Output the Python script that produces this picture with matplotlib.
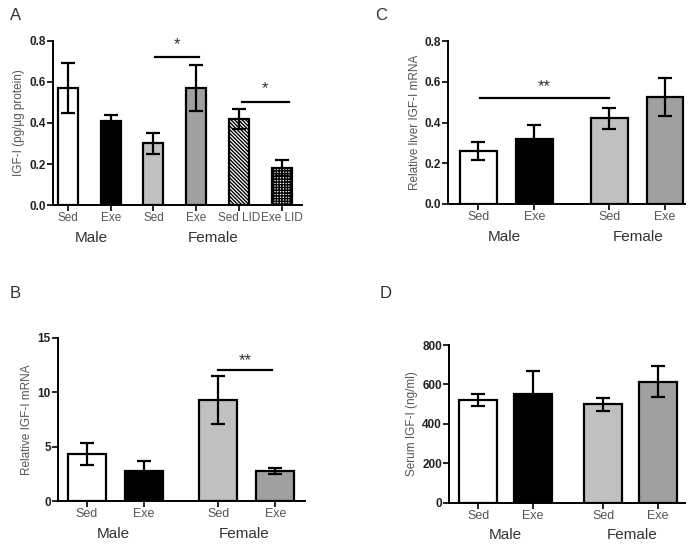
import matplotlib
matplotlib.use('Agg')
import matplotlib.pyplot as plt

plt.rcParams['font.family'] = ['Liberation Sans', 'DejaVu Sans']
plt.rcParams['hatch.linewidth'] = 1.0

WHITE = 'white'
BLACK = 'black'
LIGHT = '#c0c0c0'
MID = '#a0a0a0'
GREY_TXT = '#555555'

# Panel A: IGF-I protein
a_labels = ['Sed', 'Exe', 'Sed', 'Exe', 'Sed LID', 'Exe LID']
a_means = [0.57, 0.41, 0.30, 0.57, 0.42, 0.18]
a_err = [0.12, 0.03, 0.05, 0.11, 0.05, 0.04]

# Panel B: relative IGF-I mRNA
b_labels = ['Sed', 'Exe', 'Sed', 'Exe']
b_means = [4.3, 2.8, 9.3, 2.75]
b_err = [1.0, 0.9, 2.2, 0.25]

# Panel C: relative liver IGF-I mRNA
c_labels = ['Sed', 'Exe', 'Sed', 'Exe']
c_means = [0.26, 0.32, 0.42, 0.525]
c_err = [0.045, 0.07, 0.05, 0.095]

# Panel D: serum IGF-I
d_labels = ['Sed', 'Exe', 'Sed', 'Exe']
d_means = [520, 550, 500, 615]
d_err = [30, 120, 32, 78]

fig = plt.figure(figsize=(6.97, 5.44), dpi=100)


def panel(rect, pos, means, err, labels, colors, hatches, width, xlim, ylim, yticks,
          yfmt, ylabel, groups, xfs=9):
    ax = fig.add_axes(rect)
    ax.bar(pos, means, width=width, color=colors, edgecolor='black', linewidth=1.6,
           hatch=hatches, zorder=2)
    ax.errorbar(pos, means, yerr=err, fmt='none', ecolor='black', elinewidth=1.6,
                capsize=5, capthick=1.6, zorder=3)
    ax.set_xlim(*xlim)
    ax.set_ylim(*ylim)
    ax.set_yticks(yticks)
    ax.set_yticklabels([yfmt % t for t in yticks], fontsize=8.5, fontweight='bold',
                       color='#222222')
    ax.set_xticks(pos)
    ax.set_xticklabels(labels, fontsize=xfs, color=GREY_TXT)
    ax.spines['top'].set_visible(False)
    ax.spines['right'].set_visible(False)
    ax.spines['left'].set_linewidth(1.4)
    ax.spines['bottom'].set_linewidth(1.4)
    ax.tick_params(axis='both', width=1.2, length=4)
    ax.tick_params(axis='x', pad=1)
    ax.tick_params(axis='y', pad=1)
    ax.set_ylabel(ylabel, fontsize=8.5, color=GREY_TXT, labelpad=3)
    for gx, gname in groups:
        ax.text(gx, -0.2, gname, transform=ax.get_xaxis_transform(), ha='center',
                va='center', fontsize=11, color='#333333')
    return ax


def sig(ax, x0, x1, y, ys, stars):
    ax.plot([x0, x1], [y, y], color='black', lw=1.6, zorder=3)
    ax.text((x0 + x1) / 2, ys, stars, ha='center', va='center', fontsize=12, color='#333333')


# A
pos_a = [0, 1, 2, 3, 4, 5]
ax = panel([0.076, 0.623, 0.357, 0.302], pos_a, a_means, a_err, a_labels,
           [WHITE, BLACK, LIGHT, MID, WHITE, WHITE], ['', '', '', '', '\\' * 9, '+' * 6],
           0.47, (-0.35, 5.47), (0, 0.8), [0, 0.2, 0.4, 0.6, 0.8], '%.1f',
           'IGF-I (pg/\u00b5g protein)', [(0.55, 'Male'), (3.4, 'Female')], xfs=8.5)
sig(ax, 2.03, 3.07, 0.72, 0.78, '*')
sig(ax, 4.07, 5.17, 0.50, 0.565, '*')

# C
pos_c = [0, 1, 2.34, 3.34]
ax = panel([0.643, 0.625, 0.340, 0.2996], pos_c, c_means, c_err, c_labels,
           [WHITE, BLACK, LIGHT, MID], None, 0.66, (-0.54, 3.70), (0, 0.8),
           [0, 0.2, 0.4, 0.6, 0.8], '%.1f', 'Relative liver IGF-I mRNA',
           [(0.46, 'Male'), (2.86, 'Female')])
sig(ax, 0.03, 2.34, 0.52, 0.575, '**')

# B
pos_b = [0, 1, 2.3, 3.3]
ax = panel([0.083, 0.079, 0.3546, 0.2997], pos_b, b_means, b_err, b_labels,
           [WHITE, BLACK, LIGHT, MID], None, 0.67, (-0.51, 3.82), (0, 15),
           [0, 5, 10, 15], '%d', 'Relative IGF-I mRNA',
           [(0.46, 'Male'), (2.76, 'Female')])
sig(ax, 2.3, 3.25, 12.05, 12.9, '**')

# D
pos_d = [0, 1, 2.27, 3.27]
panel([0.644, 0.0754, 0.339, 0.2904], pos_d, d_means, d_err, d_labels,
      [WHITE, BLACK, LIGHT, MID], None, 0.69, (-0.53, 3.76), (0, 800),
      [0, 200, 400, 600, 800], '%d', 'Serum IGF-I (ng/ml)',
      [(0.5, 'Male'), (2.8, 'Female')])

fig.text(10 / 697, 1 - 15 / 544, 'A', fontsize=12, va='center', color='#333333')
fig.text(375 / 697, 1 - 15 / 544, 'C', fontsize=12, va='center', color='#333333')
fig.text(10 / 697, 1 - 293 / 544, 'B', fontsize=12, va='center', color='#333333')
fig.text(380 / 697, 1 - 293 / 544, 'D', fontsize=12, va='center', color='#333333')

fig.savefig('out.png', dpi=100)
